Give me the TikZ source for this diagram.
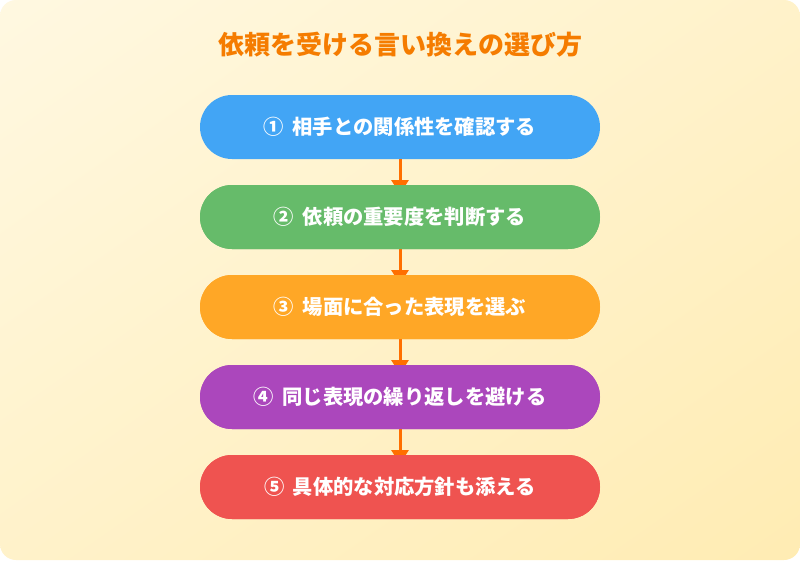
\documentclass[tikz,border=0pt]{standalone}
\usepackage{fontspec}
\setmainfont{Noto Sans CJK JP}
\usetikzlibrary{arrows.meta,shadings}
\definecolor{bgA}{HTML}{FFF8E1}
\definecolor{bgB}{HTML}{FFECB3}
\colorlet{bgM}{bgA!50!bgB}
\definecolor{titleC}{HTML}{F57C00}
\definecolor{arrC}{HTML}{FF6F00}
\definecolor{c1}{HTML}{42A5F5}
\definecolor{c2}{HTML}{66BB6A}
\definecolor{c3}{HTML}{FFA726}
\definecolor{c4}{HTML}{AB47BC}
\definecolor{c5}{HTML}{EF5350}
\newcommand{\numgap}{\hspace{8.5pt}}
\tikzset{
  stepbox/.style={rectangle, rounded corners=32pt, minimum width=400pt, minimum height=64pt,
    text=white, font=\fontsize{20.3}{24}\selectfont\bfseries, inner sep=0pt},
  flow/.style={draw=arrC, line width=3pt, -{Triangle[width=17pt,length=14pt]}},
}
\begin{document}
\begin{tikzpicture}[x=1pt,y=-1pt]
\useasboundingbox (0,0) rectangle (800,560);
\fill[white] (0,0) rectangle (800,560);
\shade[rounded corners=16pt, upper left=bgA, lower right=bgB, upper right=bgM, lower left=bgM] (0,0) rectangle (800,560);
\node[text=titleC, font=\fontsize{26}{30}\selectfont\bfseries] (title) at (400,45) {依頼を受ける言い換えの選び方};
\coordinate (a1) at (400,194);
\coordinate (a2) at (400,284);
\coordinate (a3) at (400,374);
\coordinate (a4) at (400,464);
\node[stepbox, fill=c1] (s1) at (400,127) {①\numgap 相手との関係性を確認する};
\node[stepbox, fill=c2] (s2) at (400,217) {②\numgap 依頼の重要度を判断する};
\node[stepbox, fill=c3] (s3) at (400,307) {③\numgap 場面に合った表現を選ぶ};
\node[stepbox, fill=c4] (s4) at (400,397) {④\numgap 同じ表現の繰り返しを避ける};
\node[stepbox, fill=c5] (s5) at (400,487) {⑤\numgap 具体的な対応方針も添える};
\draw[flow] (s1.south) -- (a1);
\draw[flow] (s2.south) -- (a2);
\draw[flow] (s3.south) -- (a3);
\draw[flow] (s4.south) -- (a4);
\node[stepbox, fill=c2] at (400,217) {②\numgap 依頼の重要度を判断する};
\node[stepbox, fill=c3] at (400,307) {③\numgap 場面に合った表現を選ぶ};
\node[stepbox, fill=c4] at (400,397) {④\numgap 同じ表現の繰り返しを避ける};
\node[stepbox, fill=c5] at (400,487) {⑤\numgap 具体的な対応方針も添える};
\end{tikzpicture}
\end{document}
